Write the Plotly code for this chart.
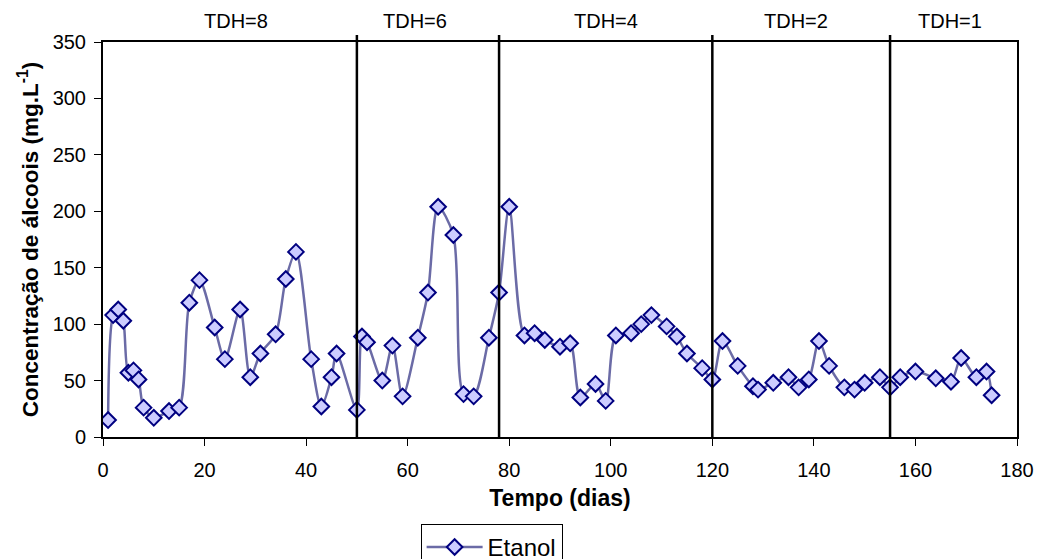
import plotly.graph_objects as go

# Data
dias = [1, 2, 3, 4, 5, 6, 7, 8, 10, 13, 15, 17, 19, 22, 24, 27, 29, 31, 34, 36,
        38, 41, 43, 45, 46, 50, 51, 52, 55, 57, 59, 62, 64, 66, 69, 71, 73, 76, 78, 80,
        83, 85, 87, 90, 92, 94, 97, 99, 101, 104, 106, 108, 111, 113, 115, 118, 120, 122, 125, 128,
        129, 132, 135, 137, 139, 141, 143, 146, 148, 150, 153, 155, 157, 160, 164, 167, 169, 172, 174, 175]
etanol = [15, 108, 113, 103, 57, 59, 51, 26, 17, 23, 26, 119, 139, 97, 69, 113, 53, 74, 91, 140,
          164, 69, 27, 53, 74, 24, 89, 84, 50, 81, 36, 88, 128, 204, 179, 38, 36, 88, 128, 204,
          90, 92, 86, 80, 83, 35, 47, 32, 90, 92, 100, 108, 98, 89, 74, 61, 51, 85, 63, 45,
          42, 48, 53, 44, 51, 85, 63, 44, 42, 48, 53, 44, 53, 58, 52, 49, 70, 53, 58, 37]

fases = [50, 78, 120, 155]
fase_rotulos = ["TDH=8", "TDH=6", "TDH=4", "TDH=2", "TDH=1"]
fase_rotulo_x = [26.2, 61.4, 99, 136.5, 166.9]

FONT = "Liberation Sans, Arial, sans-serif"

fig = go.Figure()
fig.add_trace(go.Scatter(
    x=dias, y=etanol, name="Etanol", mode="lines+markers",
    line=dict(color="#6b6ba6", width=2.5, shape="spline", smoothing=0.8),
    marker=dict(symbol="diamond", size=12, color="#ccccff",
                line=dict(color="#000080", width=2)),
))

for xv in fases:
    fig.add_shape(type="line", xref="x", yref="paper", x0=xv, x1=xv, y0=0, y1=1.018,
                  line=dict(color="black", width=2.5))

for txt, xv in zip(fase_rotulos, fase_rotulo_x):
    fig.add_annotation(x=xv, xref="x", y=1.052, yref="paper", text=txt, showarrow=False,
                       font=dict(family=FONT, size=20, color="black"), yanchor="middle")

fig.update_layout(
    width=1038, height=559,
    margin=dict(l=103, r=21, t=42, b=122, autoexpand=False),
    paper_bgcolor="white", plot_bgcolor="white",
    font=dict(family=FONT, size=20, color="black"),
    showlegend=True,
    legend=dict(x=0.3475, y=-0.22, xanchor="left", yanchor="top",
                bordercolor="black", borderwidth=1, bgcolor="white", itemwidth=56,
                font=dict(family=FONT, size=24, color="black")),
    xaxis=dict(range=[0, 180], dtick=20, tick0=0, showgrid=False, zeroline=False,
               showline=True, linecolor="black", linewidth=2, mirror=True,
               ticks="outside", ticklen=7, tickcolor="black", ticklabelstandoff=7,
               tickfont=dict(family=FONT, size=20, color="black"),
               title=dict(text="Tempo (dias)", standoff=10,
                          font=dict(family=FONT, size=23, color="black", weight="bold"))),
    yaxis=dict(range=[0, 350], dtick=50, tick0=0, showgrid=False, zeroline=False,
               showline=True, linecolor="black", linewidth=2, mirror=True,
               ticks="outside", ticklen=7, tickcolor="black", ticklabelstandoff=4,
               tickfont=dict(family=FONT, size=20, color="black"),
               title=dict(text="Concentração de álcoois (mg.L<sup>-1</sup>)", standoff=8,
                          font=dict(family=FONT, size=22.5, color="black", weight="bold"))),
)

fig.write_html("out.html")
